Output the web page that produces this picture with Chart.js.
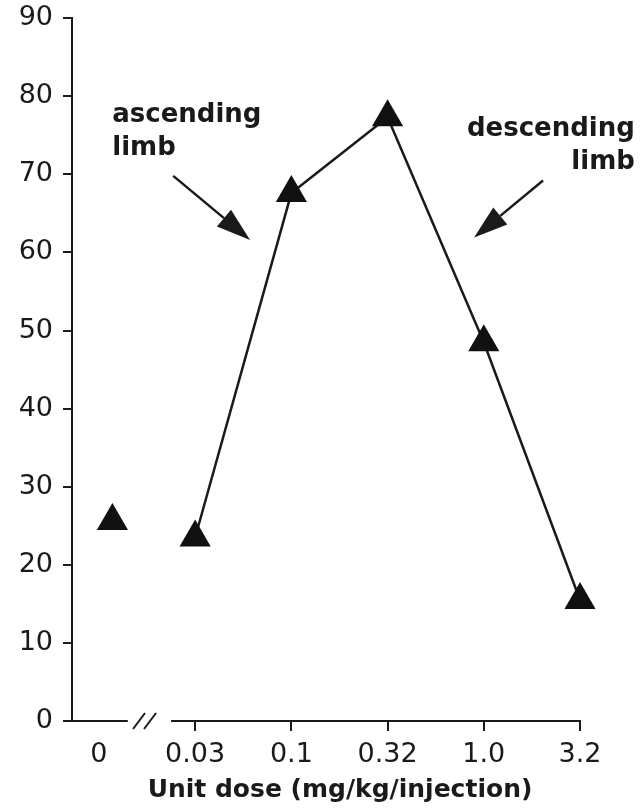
<!DOCTYPE html>
<html>
<head>
<meta charset="utf-8">
<script src="https://cdn.jsdelivr.net/npm/chart.js@4"></script>
<style>
  html, body { margin: 0; padding: 0; background: #fff; }
  #wrap { width: 641px; height: 808px; position: relative; }
</style>
</head>
<body>
<div id="wrap"><canvas id="grafica"></canvas></div>
<script>
// dose categories on the x axis (index = position)
const doseLabels = ['0', '0.03', '0.1', '0.32', '1.0', '3.2'];
// control (0 dose), drawn a bit right of its label
const controlX = [0.14];
const controlY = [25.6];
// dose-response curve
const doseX = [1, 2, 3, 4, 5];
const responseY = [23.5, 67.6, 77.3, 48.5, 15.5];
const yTicks = [0, 10, 20, 30, 40, 50, 60, 70, 80, 90];

const ink = '#1a1a1a';

// annotations: text and arrows, in data units
const notes = [
  { lines: ['ascending', 'limb'], x: 0.138, y: [76.7, 72.5], align: 'left' },
  { lines: ['descending', 'limb'], x: 5.57, y: [74.9, 70.7], align: 'right' }
];
const arrows = [
  { from: [0.772, 69.8], to: [1.571, 61.6] },
  { from: [4.616, 69.2], to: [3.899, 61.9] }
];

const extras = {
  id: 'extras',
  afterDraw(chart) {
    const { ctx, scales: { x, y } } = chart;
    const y0 = y.getPixelForValue(0);
    ctx.save();
    // x axis with break
    ctx.strokeStyle = ink;
    ctx.lineWidth = 2;
    ctx.beginPath();
    ctx.moveTo(chart.chartArea.left - 1, y0);
    ctx.lineTo(x.getPixelForValue(0.3), y0);
    ctx.moveTo(x.getPixelForValue(0.75), y0);
    ctx.lineTo(chart.chartArea.right + 1, y0);
    ctx.stroke();
    const bx = x.getPixelForValue(0.5);
    ctx.beginPath();
    ctx.moveTo(bx - 14, y0 + 8);
    ctx.lineTo(bx - 2, y0 - 8);
    ctx.moveTo(bx - 3, y0 + 8);
    ctx.lineTo(bx + 9, y0 - 8);
    ctx.stroke();

    // annotation text
    ctx.fillStyle = ink;
    ctx.font = 'bold 26px "DejaVu Sans"';
    ctx.textBaseline = 'alphabetic';
    notes.forEach(n => {
      ctx.textAlign = n.align;
      n.lines.forEach((t, i) => {
        ctx.fillText(t, x.getPixelForValue(n.x), y.getPixelForValue(n.y[i]));
      });
    });

    // arrows
    arrows.forEach(a => {
      const x1 = x.getPixelForValue(a.from[0]), y1 = y.getPixelForValue(a.from[1]);
      const x2 = x.getPixelForValue(a.to[0]), y2 = y.getPixelForValue(a.to[1]);
      const ang = Math.atan2(y2 - y1, x2 - x1);
      const len = 34, half = 11;
      const hx = x2 - Math.cos(ang) * len, hy = y2 - Math.sin(ang) * len;
      ctx.lineWidth = 2.5;
      ctx.beginPath();
      ctx.moveTo(x1, y1);
      ctx.lineTo(hx, hy);
      ctx.stroke();
      ctx.beginPath();
      ctx.moveTo(x2, y2);
      ctx.lineTo(hx + Math.sin(ang) * half, hy - Math.cos(ang) * half);
      ctx.lineTo(hx - Math.sin(ang) * half, hy + Math.cos(ang) * half);
      ctx.closePath();
      ctx.fill();
    });

    // axis title
    ctx.font = 'bold 25px "DejaVu Sans"';
    ctx.textAlign = 'center';
    ctx.textBaseline = 'middle';
    ctx.fillText('Unit dose (mg/kg/injection)', 340, 790);
    ctx.restore();
  }
};

const pointLook = {
  pointStyle: 'triangle',
  pointRadius: 18,
  pointBackgroundColor: '#111',
  pointBorderColor: '#111',
  pointBorderWidth: 0,
  clip: false
};

const ctx = document.getElementById('grafica').getContext('2d');
const chart = new Chart(ctx, {
  type: 'scatter',
  data: {
    datasets: [
      Object.assign({
        label: 'dose',
        data: doseX.map((v, i) => ({ x: v, y: responseY[i] })),
        showLine: true,
        borderColor: ink,
        borderWidth: 2.5
      }, pointLook),
      Object.assign({
        label: 'control',
        data: controlX.map((v, i) => ({ x: v, y: controlY[i] })),
        showLine: false
      }, pointLook)
    ]
  },
  options: {
    responsive: true,
    maintainAspectRatio: false,
    animation: false,
    layout: { padding: { top: 17, right: 61, left: 0, bottom: 0 } },
    plugins: { legend: { display: false }, tooltip: { enabled: false } },
    scales: {
      x: {
        type: 'linear',
        min: -0.28,
        max: 5,
        afterBuildTicks: s => { s.ticks = doseLabels.map((t, i) => ({ value: i })); },
        afterFit: s => { s.height = 87; },
        border: { display: false },
        grid: {
          drawOnChartArea: false,
          drawTicks: true,
          tickLength: 10,
          lineWidth: 2,
          color: c => (c.index === 0 ? 'rgba(0,0,0,0)' : ink)
        },
        ticks: {
          autoSkip: false,
          maxRotation: 0,
          padding: 8,
          color: ink,
          font: { family: 'DejaVu Sans', size: 27 },
          callback: (v, i) => doseLabels[i]
        }
      },
      y: {
        min: 0,
        max: 90,
        afterBuildTicks: s => { s.ticks = yTicks.map(v => ({ value: v })); },
        afterFit: s => { s.width = 72; },
        border: { display: true, color: ink, width: 2 },
        grid: {
          drawOnChartArea: false,
          drawTicks: true,
          tickLength: 9,
          lineWidth: 2,
          color: ink
        },
        ticks: {
          padding: 10,
          color: ink,
          font: { family: 'DejaVu Sans', size: 27, lineHeight: 0.6 }
        }
      }
    }
  },
  plugins: [extras]
});
</script>
</body>
</html>
